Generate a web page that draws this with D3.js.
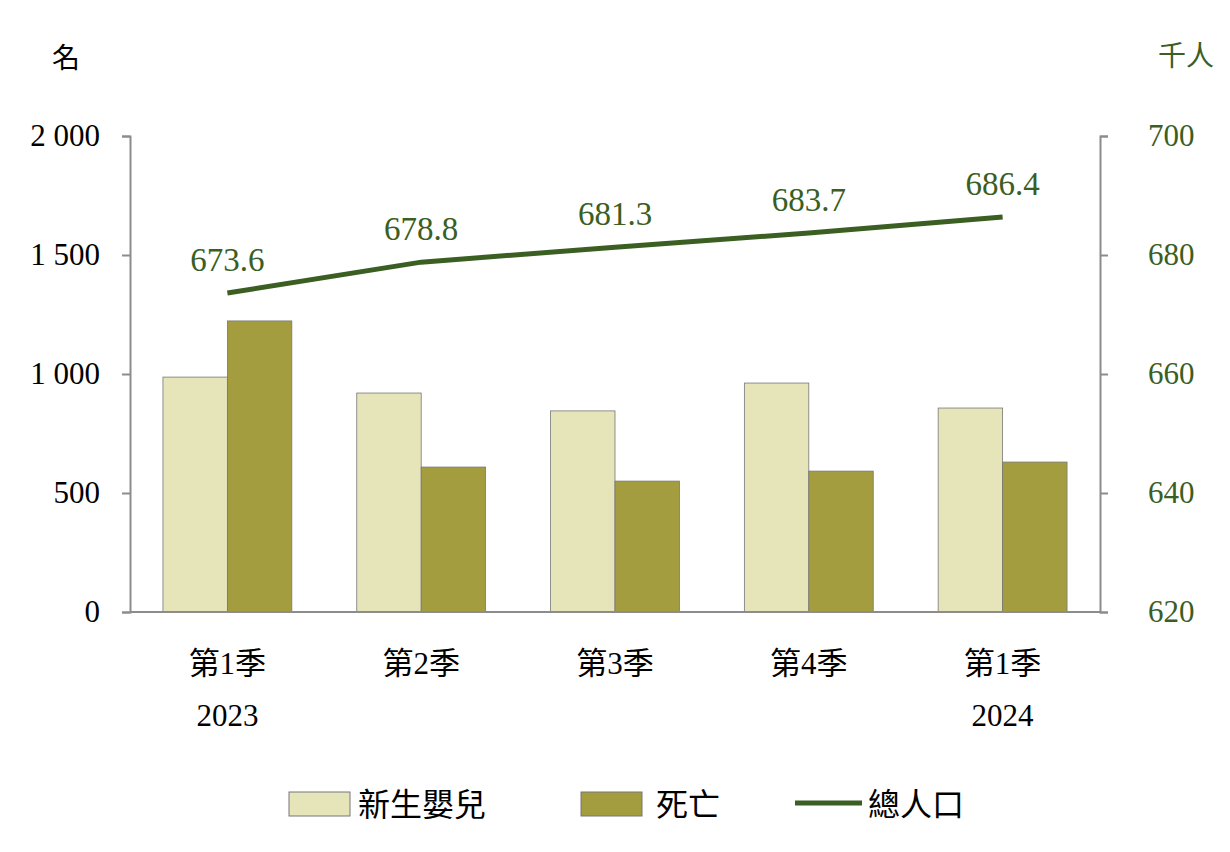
<!DOCTYPE html>
<html><head><meta charset="utf-8">
<script src="https://cdn.jsdelivr.net/npm/d3@7"></script>
<style>body{margin:0;background:#fff}</style></head>
<body><svg id="c" width="1230" height="852"></svg>
<script>
const categories = [["第1季","2023"],["第2季",""],["第3季",""],["第4季",""],["第1季","2024"]];
const births = [987, 920, 845, 962, 857];
const deaths = [1223, 609, 550, 592, 630];
const population = [673.6, 678.8, 681.3, 683.7, 686.4];
const leftTicks = [0, 500, 1000, 1500, 2000];
const rightTicks = [620, 640, 660, 680, 700];

const svg = d3.select("#c");
const L = 130, R = 1100, T = 136, B = 612;
const serif = "'Liberation Serif','Times New Roman',serif";
const cjk = "'Noto Sans CJK TC','Noto Sans CJK SC',sans-serif";
const x = d3.scaleBand().domain(d3.range(5)).range([L, R]).paddingInner(0.335).paddingOuter(0.17);
const yL = d3.scaleLinear().domain([0, 2000]).range([B, T]);
const yR = d3.scaleLinear().domain([620, 700]).range([B, T]);
const cBirth = "#e6e4b9", cDeath = "#a39d3f", cLine = "#3b5e22", axisC = "#8c8c8c";

const bw = x.bandwidth() / 2;
svg.append("g").selectAll("rect").data(births).join("rect")
  .attr("x", (d,i) => x(i)).attr("y", d => yL(d)).attr("width", bw).attr("height", d => B - yL(d))
  .attr("fill", cBirth).attr("stroke", "#777").attr("stroke-width", 0.8);
svg.append("g").selectAll("rect").data(deaths).join("rect")
  .attr("x", (d,i) => x(i) + bw).attr("y", d => yL(d)).attr("width", bw).attr("height", d => B - yL(d))
  .attr("fill", cDeath).attr("stroke", "#777").attr("stroke-width", 0.8);

// axes
const gl = svg.append("g").attr("transform", `translate(${L},0)`)
  .call(d3.axisLeft(yL).tickValues(leftTicks).tickSize(8).tickFormat(d => d3.format(",")(d).replace(",", " ")));
const gr = svg.append("g").attr("transform", `translate(${R},0)`)
  .call(d3.axisRight(yR).tickValues(rightTicks).tickSize(8));
[gl, gr].forEach(g => {
  g.select(".domain").attr("stroke", axisC).attr("stroke-width", 2);
  g.selectAll(".tick line").attr("stroke", axisC).attr("stroke-width", 2);
  g.selectAll("text").attr("font-family", serif).attr("font-size", 31);
});
gl.selectAll("text").attr("fill", "#000").attr("x", -30);
gr.selectAll("text").attr("fill", cLine).attr("x", 48);
svg.append("line").attr("x1", L).attr("x2", R).attr("y1", B).attr("y2", B).attr("stroke", axisC).attr("stroke-width", 2);

// category labels
categories.forEach((c, i) => {
  const cx = x(i) + x.bandwidth() / 2;
  svg.append("text").attr("x", cx).attr("y", 674).attr("text-anchor", "middle")
    .attr("font-family", serif + "," + cjk).attr("font-size", 31).text(c[0]);
  if (c[1]) svg.append("text").attr("x", cx).attr("y", 726).attr("text-anchor", "middle")
    .attr("font-family", serif).attr("font-size", 31).text(c[1]);
});

// line
const line = d3.line().x((d,i) => x(i) + x.bandwidth()/2).y(d => yR(d));
svg.append("path").datum(population).attr("d", line).attr("fill", "none").attr("stroke", cLine).attr("stroke-width", 5);
svg.append("g").selectAll("text").data(population).join("text")
  .attr("x", (d,i) => x(i) + x.bandwidth()/2).attr("y", d => yR(d) - 22).attr("text-anchor", "middle")
  .attr("font-family", serif).attr("font-size", 33).attr("fill", cLine).text(d => d.toFixed(1));

// unit labels
svg.append("text").attr("x", 66).attr("y", 68).attr("text-anchor", "middle").attr("font-family", cjk).attr("font-size", 28).text("名");
svg.append("text").attr("x", 1186).attr("y", 66).attr("text-anchor", "middle").attr("font-family", cjk).attr("font-size", 28).attr("fill", cLine).text("千人");

// legend
const lg = svg.append("g").attr("font-family", cjk).attr("font-size", 32);
lg.append("rect").attr("x", 289).attr("y", 792).attr("width", 61).attr("height", 24).attr("fill", cBirth).attr("stroke", "#777");
lg.append("text").attr("x", 358).attr("y", 816).text("新生嬰兒");
lg.append("rect").attr("x", 581).attr("y", 792).attr("width", 61).attr("height", 24).attr("fill", cDeath).attr("stroke", "#777");
lg.append("text").attr("x", 656).attr("y", 816).text("死亡");
lg.append("line").attr("x1", 795).attr("x2", 862).attr("y1", 803).attr("y2", 803).attr("stroke", cLine).attr("stroke-width", 5);
lg.append("text").attr("x", 868).attr("y", 816).text("總人口");
</script></body></html>
